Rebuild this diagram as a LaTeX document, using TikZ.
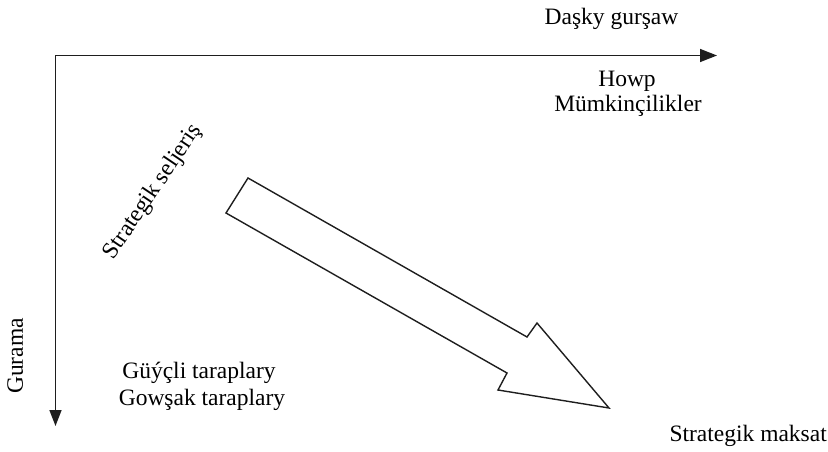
\documentclass[tikz,border=0pt]{standalone}
\usepackage{fontspec}
\setmainfont{Liberation Serif}
\usetikzlibrary{arrows.meta}
\begin{document}
\begin{tikzpicture}[x=1pt,y=-1pt,
  lbl/.style={font=\fontsize{23.5}{27}\selectfont, inner sep=0pt},
  axis/.style={line width=1.6pt, draw={rgb,255:red,30;green,30;blue,30}},
  bigarrow/.style={line width=1.4pt, draw={rgb,255:red,30;green,30;blue,30}, line join=miter}]
\useasboundingbox (0,0) rectangle (828,452);
\coordinate (o) at (55.5,55.5);
\coordinate (xe) at (717,55.5);
\coordinate (ye) at (55.5,426);
\draw[axis, -{Triangle[length=17pt,width=13pt]}] (o) -- (xe);
\draw[axis, -{Triangle[length=16pt,width=12pt]}] (o) -- (ye);
\draw[bigarrow] (248,178) -- (527,337) -- (537,323) -- (609,408) -- (498,390) -- (507,373) -- (226,213) -- cycle;
\node[lbl, anchor=base] (dg) at (611.5,25) {Daşky gurşaw};
\node[lbl, anchor=base] (hw) at (627,87) {Howp};
\node[lbl, anchor=base] (mk) at (628,112) {Mümkinçilikler};
\node[lbl, rotate=56] (ss) at (153,192) {Strategik seljeriş};
\node[lbl, rotate=90, anchor=base] (gu) at (23,356) {Gurama};
\node[lbl, anchor=base] (gt) at (199,378) {Güýçli taraplary};
\node[lbl, anchor=base] (gw) at (202,405) {Gowşak taraplary};
\node[lbl, anchor=base east] (sm) at (827,441) {Strategik maksat};
\end{tikzpicture}
\end{document}
